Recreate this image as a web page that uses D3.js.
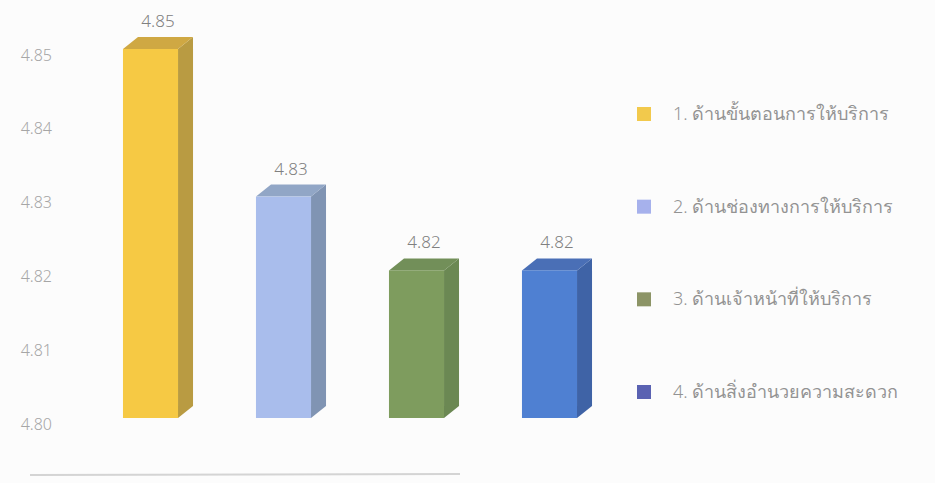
<!DOCTYPE html>
<html>
<head>
<meta charset="utf-8">
<script src="https://cdn.jsdelivr.net/npm/d3@7"></script>
<style>
  html, body { margin: 0; padding: 0; background: #fcfcfc; }
  svg { display: block; }
  text { font-family: "Noto Sans", "DejaVu Sans", "Liberation Sans", sans-serif; font-weight: 300; }
</style>
</head>
<body>
<svg id="chart" width="935" height="483"></svg>
<script>
// Service satisfaction averages by aspect
const categories = [
  "1. ด้านขั้นตอนการให้บริการ",
  "2. ด้านช่องทางการให้บริการ",
  "3. ด้านเจ้าหน้าที่ให้บริการ",
  "4. ด้านสิ่งอำนวยความสะดวก"
];
const values = [4.85, 4.83, 4.82, 4.82];
const valueLabels = ["4.85", "4.83", "4.82", "4.82"];
const tickValues = [4.80, 4.81, 4.82, 4.83, 4.84, 4.85];

// front / side / top shades for each bar, plus legend swatch colour
const frontColors = ["#f6c944", "#a9bdec", "#7e9c5e", "#4f80d2"];
const sideColors  = ["#b99b42", "#8094b3", "#6b8853", "#3f63a6"];
const topColors   = ["#cfa843", "#91a6c6", "#728f59", "#4a6fb6"];
const legendColors = ["#f2c94c", "#a6b1ec", "#8c9466", "#5a62b2"];

const svg = d3.select("#chart");

const y = d3.scaleLinear().domain([4.80, 4.85]).range([424, 55]);
const x = d3.scaleBand().domain(categories).range([84, 616])
  .paddingInner(0.586).paddingOuter(0.293);

// 3D depth offsets
const dx = 15, dy = 12, lift = 6;

// value axis labels only
const axis = d3.axisLeft(y).tickValues(tickValues).tickFormat(d3.format(".2f")).tickSize(0).tickPadding(0);
const gAxis = svg.append("g").attr("transform", "translate(52,0)").call(axis);
gAxis.select(".domain").remove();
gAxis.selectAll("text")
  .attr("fill", "#a6a6a6")
  .style("font-size", "16px")
  .style("font-weight", "300")
  .style("font-family", "'Noto Sans', 'DejaVu Sans', sans-serif");

const bars = svg.append("g");
const data = categories.map((c, i) => ({ c, v: values[i], i }));

const base = y(4.80) - lift;

bars.selectAll("g.bar").data(data).join("g").attr("class", "bar").each(function(d) {
  const g = d3.select(this);
  const x0 = x(d.c), x1 = x0 + x.bandwidth();
  const yt = y(d.v) - lift;
  // side face
  g.append("path")
    .attr("d", `M${x1},${yt} L${x1 + dx},${yt - dy} L${x1 + dx},${base - dy} L${x1},${base} Z`)
    .attr("fill", sideColors[d.i]);
  // top face
  g.append("path")
    .attr("d", `M${x0},${yt} L${x1},${yt} L${x1 + dx},${yt - dy} L${x0 + dx},${yt - dy} Z`)
    .attr("fill", topColors[d.i]);
  // front face
  g.append("rect")
    .attr("x", x0).attr("y", yt)
    .attr("width", x.bandwidth()).attr("height", base - yt)
    .attr("fill", frontColors[d.i]);
  // value label
  g.append("text")
    .attr("x", x0 + x.bandwidth() / 2 + dx / 2)
    .attr("y", yt - dy - 10)
    .attr("text-anchor", "middle")
    .attr("fill", "#808080")
    .style("font-size", "17px")
    .text(valueLabels[d.i]);
});

// legend
const legend = svg.append("g").attr("transform", "translate(637,0)");
const legendY = d3.scalePoint().domain(categories).range([114, 392]);
categories.forEach((c, i) => {
  const ly = legendY(c);
  legend.append("rect")
    .attr("x", 0).attr("y", ly - 7)
    .attr("width", 14).attr("height", 14)
    .attr("fill", legendColors[i]);
  legend.append("text")
    .attr("x", 36).attr("y", ly + 6)
    .attr("fill", "#939393")
    .style("font-size", "18px")
    .text(c);
});

// frame edge along the bottom
svg.append("line")
  .attr("x1", 30).attr("x2", 460).attr("y1", 475).attr("y2", 474)
  .attr("stroke", "#d4d4d4").attr("stroke-width", 2);
</script>
</body>
</html>
